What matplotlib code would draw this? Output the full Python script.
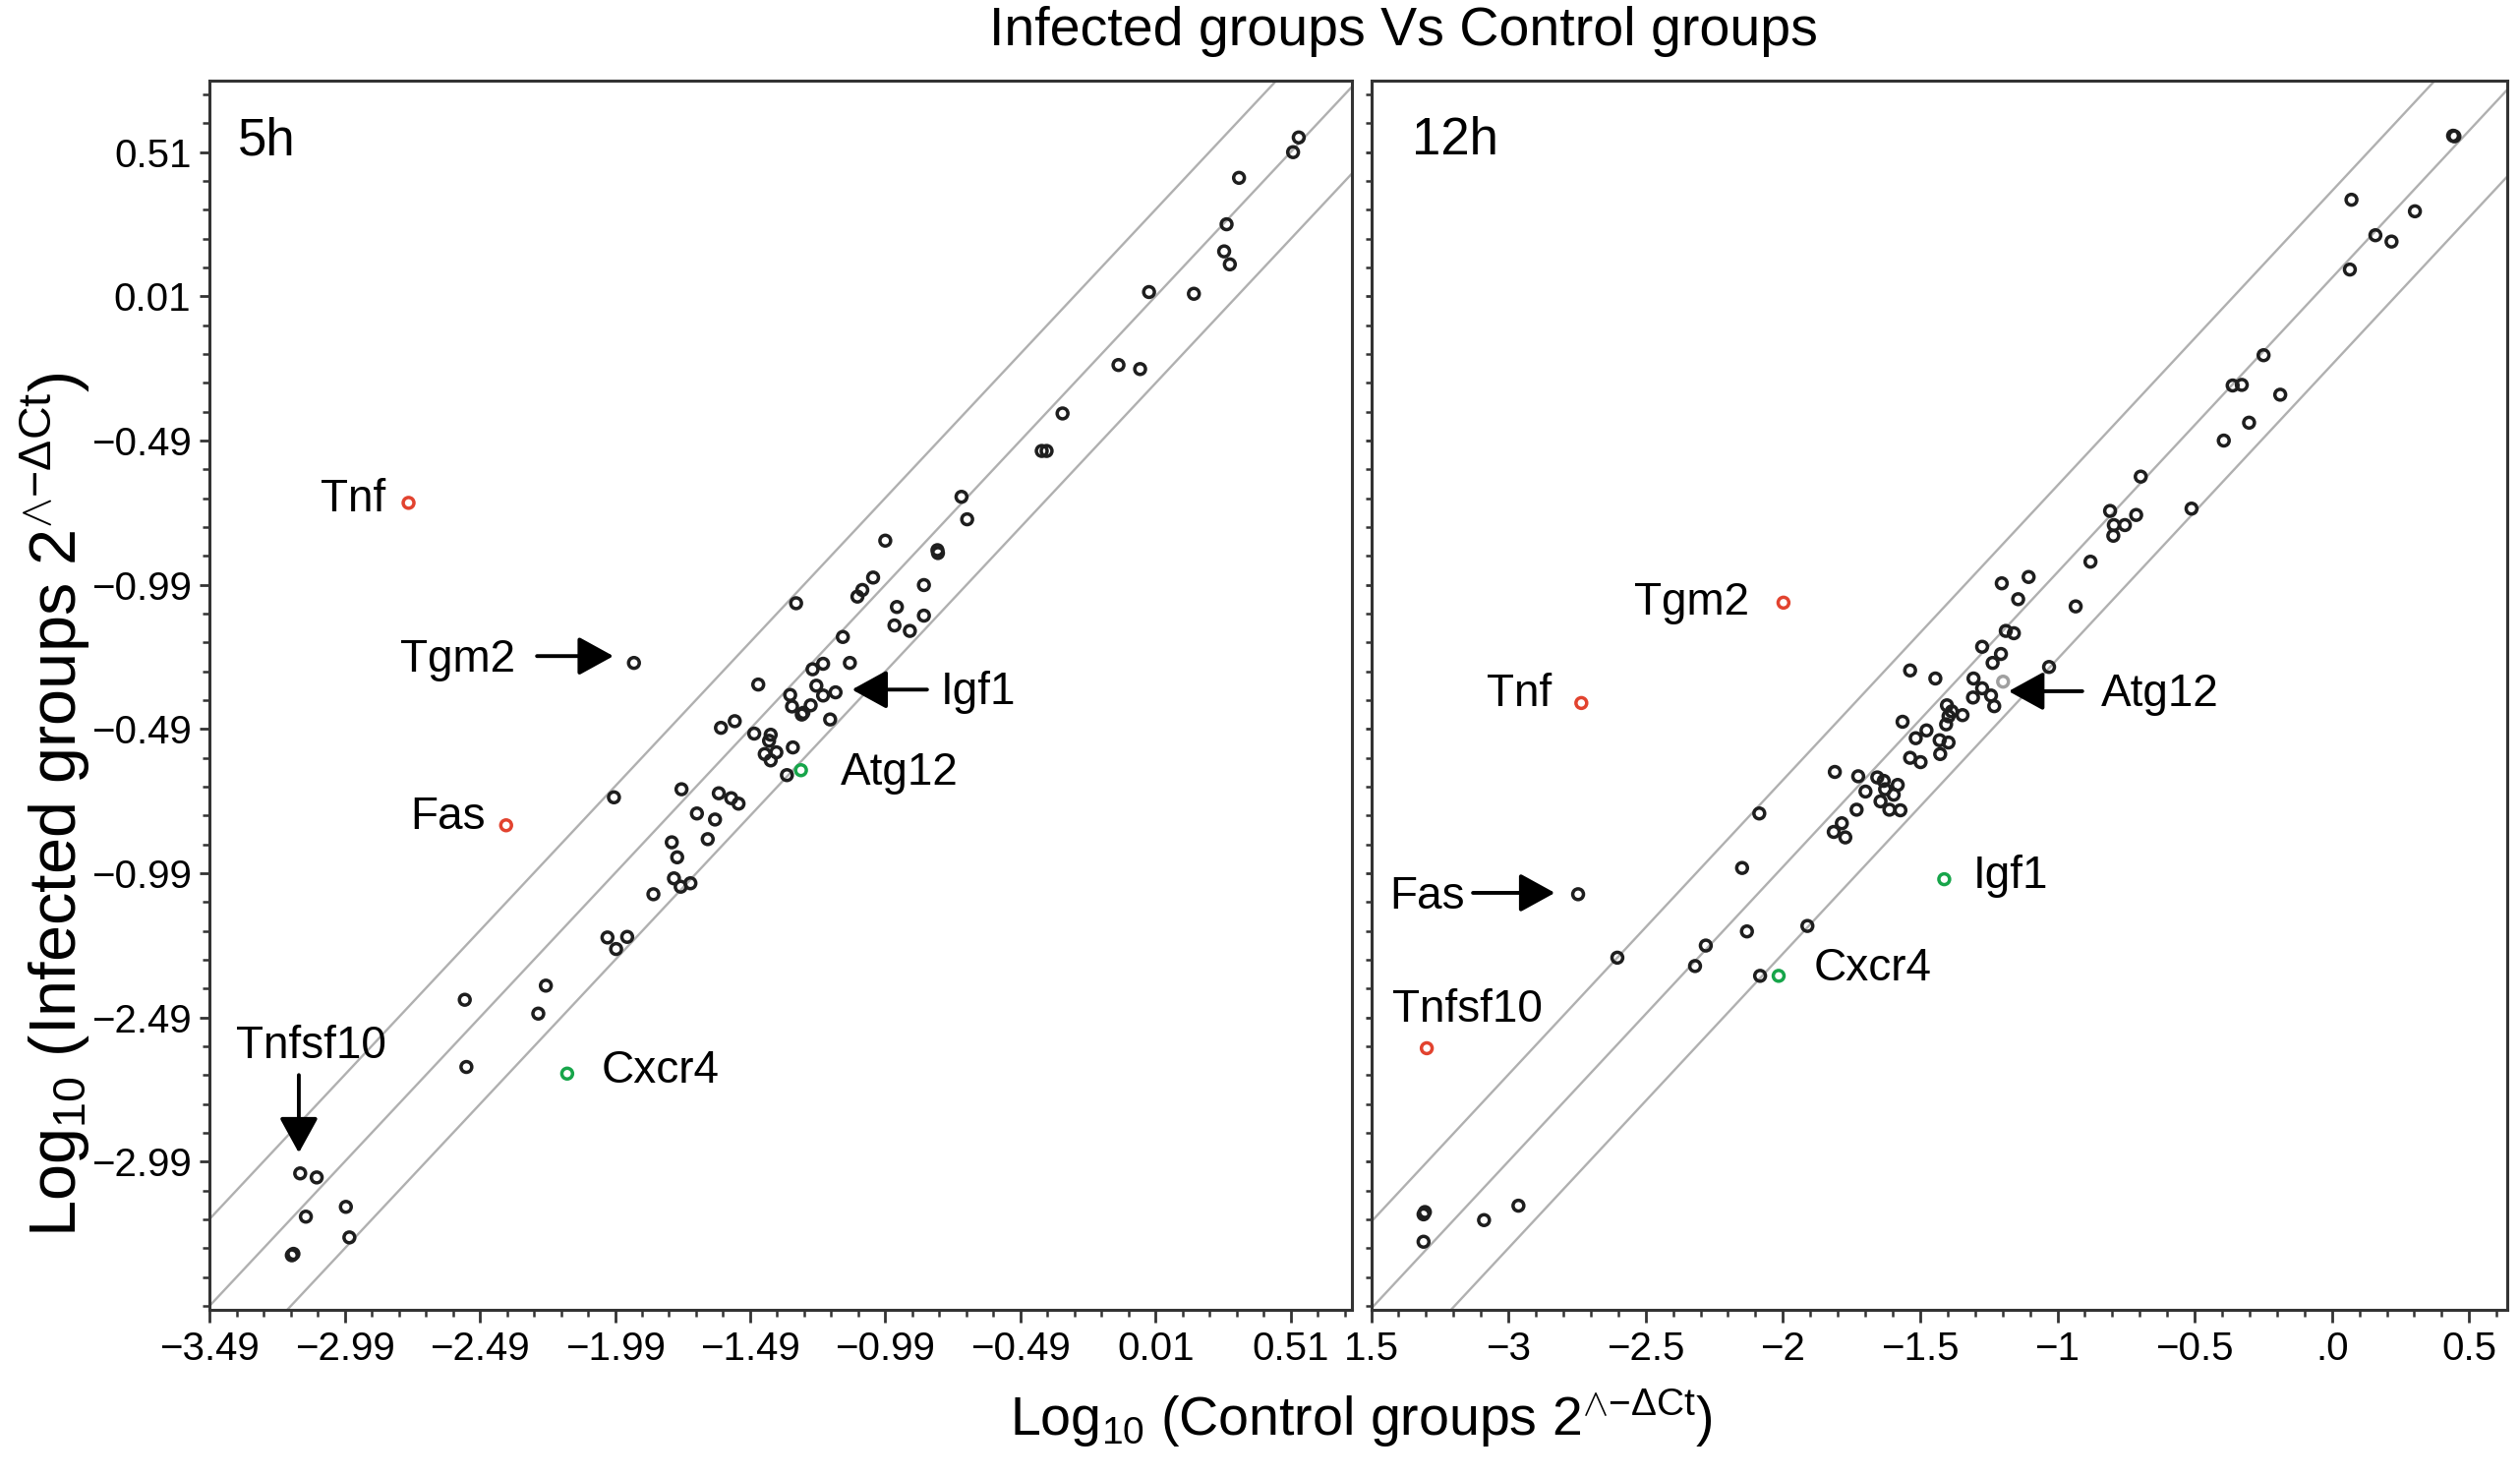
import matplotlib
matplotlib.use('Agg')
import matplotlib.pyplot as plt
from matplotlib.transforms import offset_copy

plt.rcParams['font.family'] = ['Liberation Sans', 'DejaVu Sans']
plt.rcParams['mathtext.fontset'] = 'custom'
plt.rcParams['mathtext.rm'] = 'Liberation Sans'
plt.rcParams['mathtext.it'] = 'Liberation Sans:italic'
plt.rcParams['mathtext.bf'] = 'Liberation Sans:bold'

# ---- 5h panel: unlabelled genes (control, infected) ----
ctrl_5h = [0.540, 0.519, 0.319, 0.273, 0.264, 0.285, -0.014, 0.152, -0.127, -0.047,
           -0.334, -0.411, -0.393, -0.708, -0.687, -0.990, -0.797, -0.795,
           -1.035, -1.075, -1.093, -1.320, -0.847, -0.947, -0.956, -0.899, -0.847,
           -1.147, -1.220, -1.259, -1.121, -1.460, -1.342, -1.245, -1.220, -1.335,
           -1.299, -1.293, -1.266, -1.194, -1.547, -1.598, -1.475, -1.414, -1.420,
           -1.436, -1.414, -1.393, -1.332, -1.354, -1.606, -1.560, -1.533, -1.687,
           -1.620, -1.647, -1.744, -1.994, -1.780, -1.760, -1.772, -1.747, -1.711,
           -1.848, -2.018, -1.986, -1.945,
           -3.094, -3.134, -2.986, -2.973, -3.186, -3.180,
           -2.546, -2.540, -2.246, -2.274]
inf_5h = [0.561, 0.510, 0.421, 0.260, 0.166, 0.121, 0.025, 0.019, -0.228, -0.242,
          -0.396, -0.526, -0.526, -0.685, -0.763, -0.837, -0.870, -0.880,
          -0.965, -1.008, -1.031, -1.054, -0.991, -1.067, -1.131, -1.150, -1.097,
          -1.171, -1.264, -1.283, -1.261, -1.336, -1.372, -1.340, -1.374, -1.412,
          -1.440, -1.434, -1.408, -1.457, -1.463, -1.486, -1.506, -1.510, -1.531,
          -1.577, -1.599, -1.571, -1.554, -1.650, -1.713, -1.730, -1.749, -1.783,
          -1.804, -1.872, -1.699, -1.727, -1.883, -1.935, -2.008, -2.037, -2.025,
          -2.063, -2.213, -2.253, -2.211,
          -3.045, -3.181, -3.147, -3.253, -3.315, -3.310,
          -2.429, -2.662, -2.380, -2.477]

# ---- 5h panel: highlighted genes ----
genes_5h = ['Tnf', 'Tgm2', 'Fas', 'Igf1', 'Atg12', 'Cxcr4', 'Tnfsf10']
gene_ctrl_5h = [-2.754, -1.920, -2.393, -1.174, -1.302, -2.167, -3.155]
gene_inf_5h = [-0.706, -1.261, -1.824, -1.363, -1.633, -2.685, -3.031]
gene_col_5h = ['red', 'black', 'red', 'black', 'green', 'green', 'black']

# ---- 12h panel: unlabelled genes ----
ctrl_12h = [0.525, 0.530, 0.147, 0.383, 0.236, 0.296, 0.141, -0.180, -0.295, -0.261,
            -0.118, -0.234, -0.328, -0.637, -0.448, -0.751, -0.654, -0.737, -0.696,
            -0.739, -0.824,
            -1.154, -1.054, -1.093, -0.879, -1.139, -1.109, -1.227, -1.157, -1.188,
            -0.978, -1.495, -1.401, -1.259, -1.227, -1.194, -1.261, -1.182, -1.358,
            -1.340, -1.352, -1.300, -1.523, -1.434, -1.361, -1.474, -1.385, -1.352,
            -1.495, -1.456, -1.383, -1.775, -1.688, -1.617, -1.593, -1.541, -1.661,
            -1.588, -1.556, -1.605, -1.694, -1.572, -1.531, -2.056, -1.749, -1.779,
            -1.736, -2.120, -1.877, -2.102,
            -2.255, -2.584, -2.295, -2.053,
            -3.305, -3.300, -3.305, -3.080, -2.952]
inf_12h = [0.567, 0.565, 0.345, 0.305, 0.222, 0.200, 0.103, -0.194, -0.299, -0.297,
           -0.331, -0.428, -0.490, -0.615, -0.726, -0.734, -0.748, -0.783, -0.783,
           -0.820, -0.910,
           -0.985, -0.963, -1.040, -1.065, -1.150, -1.158, -1.205, -1.230, -1.261,
           -1.275, -1.287, -1.315, -1.315, -1.349, -1.374, -1.381, -1.411, -1.408,
           -1.429, -1.446, -1.442, -1.465, -1.495, -1.474, -1.522, -1.529, -1.537,
           -1.590, -1.605, -1.577, -1.639, -1.654, -1.658, -1.670, -1.684, -1.707,
           -1.699, -1.718, -1.741, -1.770, -1.770, -1.772, -1.783, -1.817, -1.847,
           -1.866, -1.972, -2.173, -2.192,
           -2.241, -2.283, -2.312, -2.346,
           -3.173, -3.165, -3.268, -3.193, -3.143]

# ---- 12h panel: highlighted genes ----
genes_12h = ['Tgm2', 'Tnf', 'Fas', 'Tnfsf10', 'Cxcr4', 'Igf1', 'Atg12']
gene_ctrl_12h = [-1.966, -2.718, -2.730, -3.293, -1.984, -1.368, -1.149]
gene_inf_12h = [-1.052, -1.400, -2.063, -2.597, -2.346, -2.011, -1.326]
gene_col_12h = ['red', 'red', 'black', 'red', 'green', 'green', 'grey']

# label placement (points, relative to the point): text dx, dy, ha, arrow tail, arrow tip
lab_5h = {
    'Tnf': (-17, 5, 'right', None),
    'Tgm2': (-87, 5, 'right', ((-71, 5), (-15, 5))),
    'Fas': (-15, 9, 'right', None),
    'Igf1': (77, 3, 'left', ((67, 2), (12, 2))),
    'Atg12': (29, 1, 'left', None),
    'Cxcr4': (25, 5, 'left', None),
    'Tnfsf10': (8, 96, 'center', ((-1, 72), (-1, 15))),
}
lab_12h = {
    'Tgm2': (-25, 3, 'right', None),
    'Tnf': (-22, 9, 'right', None),
    'Fas': (-83, 1, 'right', ((-77, 1), (-17, 1))),
    'Tnfsf10': (30, 31, 'center', None),
    'Cxcr4': (26, 8, 'left', None),
    'Igf1': (21, 5, 'left', None),
    'Atg12': (72, -6, 'left', ((58, -7), (4, -7))),
}

fold_lines = [0.301, 0.0, -0.301]

left_xtick_vals = [-3.49, -2.99, -2.49, -1.99, -1.49, -0.99, -0.49, 0.01, 0.51]
ytick_vals = [0.51, 0.01, -0.49, -0.99, -1.49, -1.99, -2.49, -2.99]
ytick_labels = ['0.51', '0.01', '\u22120.49', '\u22120.99', '\u22120.49', '\u22120.99',
                '\u22122.49', '\u22122.99']
right_xtick_vals = [-3.5, -3.0, -2.5, -2.0, -1.5, -1.0, -0.5, 0.0, 0.5]
right_xtick_labels = ['1.5', '\u22123', '\u22122.5', '\u22122', '\u22121.5', '\u22121',
                      '\u22120.5', '.0', '0.5']
right_stretch = 279.2 / 273.4   # the 12h axis labels are spaced slightly wider

colours = {'red': '#e2432f', 'green': '#17a54a', 'black': '#1e1e1e', 'grey': '#a0a0a0'}

fig = plt.figure(figsize=(25.63, 15.02), dpi=100)
ax1 = fig.add_axes([0.0832, 0.1132, 0.4533, 0.8322])
ax2 = fig.add_axes([0.5441, 0.1132, 0.4510, 0.8322], sharey=ax1)


def draw_panel(ax, cx, cy, genes, gx, gy, gcol, labels, tag, tag_x):
    for d in fold_lines:
        ax.axline((0, d), slope=1, color='#b0b0b0', lw=1.7, zorder=1)
    ax.scatter(cx, cy, s=62, facecolors='none', edgecolors=colours['black'],
               linewidths=2.5, zorder=3)
    ax.scatter(gx, gy, s=62, facecolors='none',
               edgecolors=[colours[c] for c in gcol], linewidths=2.5, zorder=3)
    for g, x, y in zip(genes, gx, gy):
        dx, dy, ha, arr = labels[g]
        ax.annotate(g, (x, y), xytext=(dx, dy - 11.5), textcoords='offset points',
                    ha=ha, va='baseline', fontsize=33, zorder=4)
        if arr is not None:
            (tx, ty), (hx, hy) = arr
            tr = offset_copy(ax.transData, fig=fig, x=hx, y=hy, units='points')
            ax.annotate('', xy=(x, y), xycoords=tr, xytext=(tx - hx, ty - hy),
                        textcoords='offset points',
                        arrowprops=dict(arrowstyle='-|>,head_length=0.4,head_width=0.22',
                                        mutation_scale=55, lw=2.8, color='black',
                                        shrinkA=0, shrinkB=0))
    ax.text(tag_x, 0.951, tag, transform=ax.transAxes, fontsize=38, va='center')
    for sp in ax.spines.values():
        sp.set_linewidth(2.2)
        sp.set_color('#333333')


draw_panel(ax1, ctrl_5h, inf_5h, genes_5h, gene_ctrl_5h, gene_inf_5h, gene_col_5h,
           lab_5h, '5h', 0.025)
draw_panel(ax2, ctrl_12h, inf_12h, genes_12h, gene_ctrl_12h, gene_inf_12h, gene_col_12h,
           lab_12h, '12h', 0.036)

ax1.set_ylim(-3.504, 0.758)
ax1.set_xlim(-3.487, 0.737)
ax2.set_xlim(-3.5, 0.728)

ax1.set_xticks(left_xtick_vals)
ax1.set_xticklabels([('%.2f' % v).replace('-', '\u2212') for v in left_xtick_vals])
ax1.set_xticks([-3.49 + 0.1 * i for i in range(43)], minor=True)
ax1.set_yticks(ytick_vals)
ax1.set_yticklabels(ytick_labels)
ax1.set_yticks([0.71 - 0.1 * i for i in range(43)], minor=True)

ax2.set_xticks([-3.5 + (v + 3.5) * right_stretch for v in right_xtick_vals])
ax2.set_xticklabels(right_xtick_labels)
ax2.set_xticks([-3.5 + 0.1 * i * right_stretch for i in range(42)], minor=True)
ax2.tick_params(axis='y', labelleft=False)

for ax in (ax1, ax2):
    ax.tick_params(which='major', direction='out', width=2, color='#333333',
                   labelsize=29, pad=6)
    ax.tick_params(axis='x', which='major', length=9)
    ax.tick_params(axis='y', which='major', length=7.5)
    ax.tick_params(which='minor', direction='out', width=1.8, length=5, color='#333333')
ax2.tick_params(axis='y', which='both', length=4)

fig.text(0.557, 0.979, 'Infected groups Vs Control groups', ha='center', va='center',
         fontsize=40)
fig.text(0.54, 0.040, r'Log$_{10}$ (Control groups 2$^{{\wedge}\mathrm{-}\Delta\mathrm{Ct}}$)',
         ha='center', va='center', fontsize=40)
fig.text(0.022, 0.455, r'Log$_{10}$ (Infected groups 2$^{{\wedge}\mathrm{-}\Delta\mathrm{Ct}}$)',
         ha='center', va='center', rotation=90, fontsize=48)

fig.savefig('out.png', dpi=100, facecolor='white')
